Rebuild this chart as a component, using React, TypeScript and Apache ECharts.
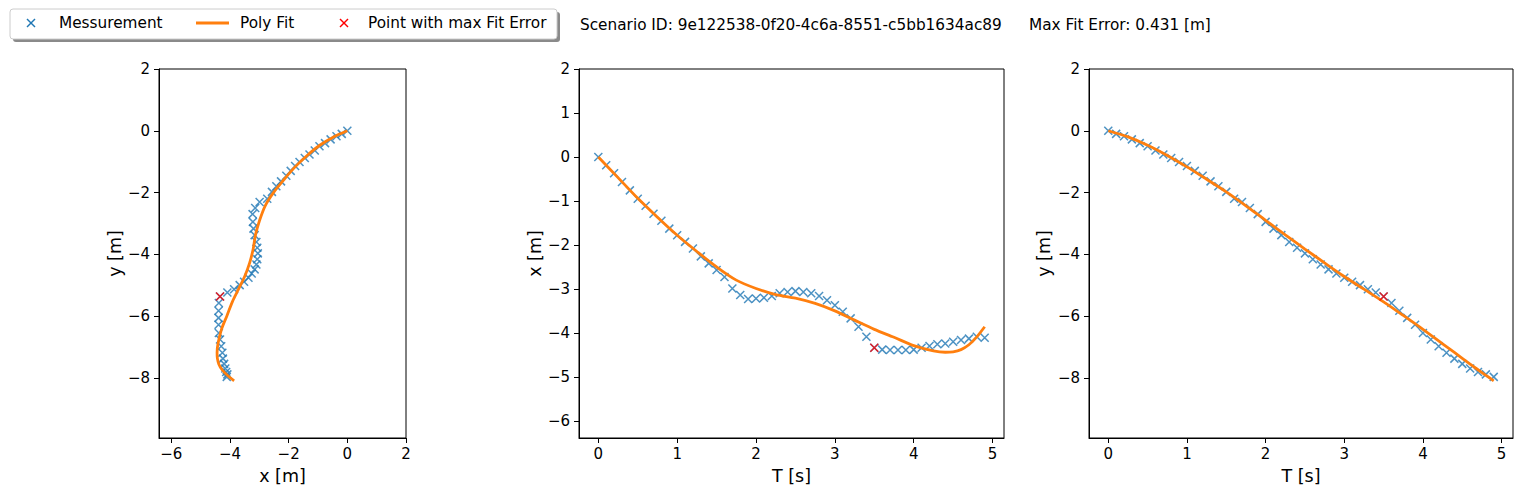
import React, { useEffect, useRef } from "react";
import * as echarts from "echarts";

// Sample times [s]
const T = [
  0, 0.1, 0.2, 0.3, 0.4, 0.5, 0.6, 0.7, 0.8, 0.9,
  1.0, 1.1, 1.2, 1.3, 1.4, 1.5, 1.6, 1.7, 1.8, 1.9,
  2.0, 2.1, 2.2, 2.3, 2.4, 2.5, 2.6, 2.7, 2.8, 2.9,
  3.0, 3.1, 3.2, 3.3, 3.4, 3.5, 3.6, 3.7, 3.8, 3.9,
  4.0, 4.1, 4.2, 4.3, 4.4, 4.5, 4.6, 4.7, 4.8, 4.9,
];

// Measured x [m]
const measX = [
  0, -0.19, -0.37, -0.57, -0.76, -0.95, -1.11, -1.29, -1.45, -1.63,
  -1.78, -1.93, -2.08, -2.26, -2.42, -2.57, -2.73, -2.99, -3.14, -3.23,
  -3.22, -3.2, -3.16, -3.1, -3.07, -3.05, -3.07, -3.1, -3.16, -3.26,
  -3.37, -3.52, -3.67, -3.86, -4.09, -4.34, -4.38, -4.39, -4.39, -4.39,
  -4.38, -4.34, -4.3, -4.26, -4.24, -4.2, -4.16, -4.13, -4.09, -4.11,
];

// Measured y [m]
const measY = [
  0, -0.1, -0.18, -0.28, -0.4, -0.5, -0.64, -0.77, -0.88, -1.01,
  -1.14, -1.3, -1.46, -1.64, -1.8, -1.98, -2.2, -2.31, -2.5, -2.7,
  -2.95, -3.17, -3.38, -3.6, -3.79, -3.97, -4.16, -4.33, -4.49, -4.62,
  -4.76, -4.89, -5.0, -5.13, -5.24, -5.37, -5.58, -5.83, -6.06, -6.28,
  -6.55, -6.76, -6.98, -7.19, -7.38, -7.55, -7.7, -7.81, -7.89, -7.97,
];

// Polynomial fit, read at these times
const fitT = [0, 0.25, 0.5, 0.75, 1.0, 1.25, 1.5, 1.75, 2.0, 2.25, 2.5, 2.75, 3.0, 3.25, 3.5, 3.75, 4.0, 4.25, 4.4, 4.5, 4.6, 4.7, 4.8, 4.9];
const fitX = [0, -0.47, -0.94, -1.37, -1.78, -2.15, -2.5, -2.8, -2.99, -3.13, -3.21, -3.33, -3.5, -3.71, -3.92, -4.1, -4.29, -4.41, -4.44, -4.43, -4.38, -4.27, -4.09, -3.86];
const fitY = [0, -0.2, -0.47, -0.8, -1.17, -1.57, -1.98, -2.43, -2.9, -3.37, -3.83, -4.28, -4.72, -5.13, -5.54, -5.98, -6.43, -6.9, -7.18, -7.37, -7.56, -7.74, -7.92, -8.1];

const maxErrIndex = 35;

const xTicks1 = [-6, -4, -2, 0, 2];
const yTicksXY = [2, 0, -2, -4, -6, -8];
const tTicks = [0, 1, 2, 3, 4, 5];
const yTicksX = [2, 1, 0, -1, -2, -3, -4, -5, -6];

const legendLabels = ["Messurement", "Poly Fit", "Point with max Fit Error"];
const scenarioText = "Scenario ID: 9e122538-0f20-4c6a-8551-c5bb1634ac89";
const maxErrText = "Max Fit Error: 0.431 [m]";

const BLUE = "#1f77b4";
const ORANGE = "#ff7f0e";
const RED = "#ff0000";
const FONT = "DejaVu Sans";
const XPATH = "path://M0,0L10,10M10,0L0,10";

const fmt = (v: number) => (v < 0 ? "\u2212" + Math.abs(v) : String(v));

function valueAxis(gridIndex: number, min: number, max: number, ticks: number[], name: string, nameGap: number, isY: boolean) {
  return {
    type: "value",
    gridIndex,
    min,
    max,
    name,
    nameLocation: "middle",
    nameGap,
    nameTextStyle: { fontFamily: FONT, fontSize: 17.5, color: "#000" },
    axisLine: { show: true, onZero: false, lineStyle: { color: "#000", width: 1 } },
    axisTick: { show: true, length: 5, lineStyle: { color: "#000", width: 1 }, customValues: ticks },
    axisLabel: {
      show: true,
      customValues: ticks,
      formatter: fmt,
      fontFamily: FONT,
      fontSize: 15,
      color: "#000",
      margin: isY ? 9 : 8,
    },
    splitLine: { show: false },
  };
}

function xMarker(cx: number, cy: number, color: string) {
  return [
    { type: "line", z: 12, shape: { x1: cx - 4, y1: cy - 4, x2: cx + 4, y2: cy + 4 }, style: { stroke: color, lineWidth: 1.5 } },
    { type: "line", z: 12, shape: { x1: cx - 4, y1: cy + 4, x2: cx + 4, y2: cy - 4 }, style: { stroke: color, lineWidth: 1.5 } },
  ];
}

export default function App() {
  const ref = useRef<HTMLDivElement>(null);

  useEffect(() => {
    document.body.style.margin = "0";
    if (!ref.current) return;
    const chart = echarts.init(ref.current, null, { renderer: "svg" });

    const scatterStyle = (c: string) => ({ color: "rgba(0,0,0,0)", borderColor: c, borderWidth: 1.5 });

    const measXY = T.map((_, i) => [measX[i], measY[i]]);
    const measTX = T.map((t, i) => [t, measX[i]]);
    const measTY = T.map((t, i) => [t, measY[i]]);
    const fitXY = fitT.map((_, i) => [fitX[i], fitY[i]]);
    const fitTX = fitT.map((t, i) => [t, fitX[i]]);
    const fitTY = fitT.map((t, i) => [t, fitY[i]]);

    const sets = [
      { meas: measXY, fit: fitXY, red: [[measX[maxErrIndex], measY[maxErrIndex]]] },
      { meas: measTX, fit: fitTX, red: [[T[maxErrIndex], measX[maxErrIndex]]] },
      { meas: measTY, fit: fitTY, red: [[T[maxErrIndex], measY[maxErrIndex]]] },
    ];

    const series: any[] = [];
    sets.forEach((s, g) => {
      series.push({
        type: "scatter",
        xAxisIndex: g,
        yAxisIndex: g,
        data: s.meas,
        symbol: XPATH,
        symbolSize: 8,
        itemStyle: scatterStyle(BLUE),
        z: 2,
      });
      series.push({
        type: "line",
        xAxisIndex: g,
        yAxisIndex: g,
        data: s.fit,
        showSymbol: false,
        symbol: "none",
        smooth: 0.3,
        lineStyle: { color: ORANGE, width: 2.8 },
        z: 3,
      });
      series.push({
        type: "scatter",
        xAxisIndex: g,
        yAxisIndex: g,
        data: s.red,
        symbol: XPATH,
        symbolSize: 8,
        itemStyle: scatterStyle(RED),
        z: 4,
      });
    });

    const gridBase = { top: 69, height: 369, show: true, borderColor: "#000", borderWidth: 1, backgroundColor: "#fff" };

    chart.setOption({
      animation: false,
      backgroundColor: "#fff",
      textStyle: { fontFamily: FONT },
      grid: [
        { ...gridBase, left: 159, width: 247 },
        { ...gridBase, left: 579, width: 425 },
        { ...gridBase, left: 1089, width: 424 },
      ],
      xAxis: [
        valueAxis(0, -6.42, 2, xTicks1, "x [m]", 29, false),
        valueAxis(1, -0.245, 5.145, tTicks, "T [s]", 29, false),
        valueAxis(2, -0.245, 5.145, tTicks, "T [s]", 29, false),
      ],
      yAxis: [
        valueAxis(0, -9.95, 2, yTicksXY, "y [m]", 31, true),
        valueAxis(1, -6.39, 2, yTicksX, "x [m]", 29, true),
        valueAxis(2, -9.95, 2, yTicksXY, "y [m]", 36, true),
      ],
      series,
      graphic: [
        { type: "rect", z: 10, shape: { x: 13, y: 12, width: 547, height: 30, r: 3 }, style: { fill: "#8a8a8a" } },
        { type: "rect", z: 11, shape: { x: 10, y: 9, width: 547, height: 30, r: 3 }, style: { fill: "#fff", stroke: "#cccccc", lineWidth: 1 } },
        ...xMarker(31, 23, BLUE),
        { type: "text", z: 12, x: 59, y: 23, style: { text: legendLabels[0], fontFamily: FONT, fontSize: 15.3, fill: "#000", verticalAlign: "middle" } },
        { type: "line", z: 12, shape: { x1: 196, y1: 23, x2: 229, y2: 23 }, style: { stroke: ORANGE, lineWidth: 2.8 } },
        { type: "text", z: 12, x: 240, y: 23, style: { text: legendLabels[1], fontFamily: FONT, fontSize: 15.3, fill: "#000", verticalAlign: "middle" } },
        ...xMarker(344, 23, RED),
        { type: "text", z: 12, x: 368, y: 23, style: { text: legendLabels[2], fontFamily: FONT, fontSize: 15.3, fill: "#000", verticalAlign: "middle" } },
        { type: "text", z: 12, x: 580, y: 25, style: { text: scenarioText, fontFamily: FONT, fontSize: 15.3, fill: "#000", verticalAlign: "middle" } },
        { type: "text", z: 12, x: 1029, y: 25, style: { text: maxErrText, fontFamily: FONT, fontSize: 15.3, fill: "#000", verticalAlign: "middle" } },
      ],
    });

    return () => chart.dispose();
  }, []);

  return <div ref={ref} style={{ position: "absolute", left: 0, top: 0, width: 1523, height: 498 }} />;
}
